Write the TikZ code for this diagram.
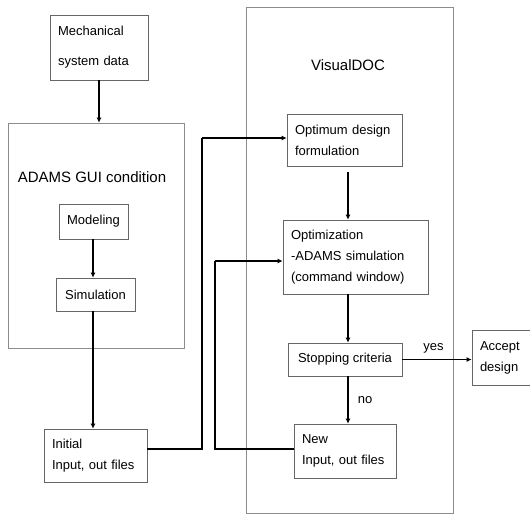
\documentclass[tikz,border=0pt]{standalone}
\usepackage{fontspec}
\setmainfont{Liberation Sans}
\usetikzlibrary{positioning,arrows.meta,calc}

\begin{document}
\begin{tikzpicture}[x=1pt,y=-1pt,
    box/.style={draw=black!60, line width=0.7pt, inner xsep=8pt, inner ysep=0pt,
        font=\fontsize{13}{21}\selectfont, align=left},
    frame/.style={draw=black!45, line width=0.7pt},
    ttl/.style={font=\fontsize{15}{18}\selectfont},
    arr/.style={-{Latex[length=5pt,width=5pt]}, line width=1.3pt},
    lnk/.style={line width=1.3pt}]
    \useasboundingbox (0,0) rectangle (530,515);
    % outer frames
    \node[frame, minimum width=176pt, minimum height=225pt] (adams) at (96,235.5) {};
    \node[frame, minimum width=207pt, minimum height=506pt] (visual) at (349.5,260) {};
    \node[ttl] (adamsttl) at (92,177) {ADAMS GUI condition};
    \node[ttl] (visualttl) at (348,65) {VisualDOC};
    % left column
    \node[box, text width=82pt, minimum height=65pt, font=\fontsize{13}{30}\selectfont] (mech) at (99,47.5) {Mechanical\\system data};
    \node[box, align=center, minimum width=69pt, minimum height=35pt] (model) at (93.5,221.5) {Modeling};
    \node[box, align=center, minimum width=79pt, minimum height=33pt] (simu) at (95.5,294.5) {Simulation};
    \node[box, text width=87pt, minimum height=53pt] (init) at (95.5,455.5) {Initial\\Input, out files};
    % right column
    \node[box, text width=99pt, minimum height=52pt] (optim) at (344.5,140) {Optimum design\\formulation};
    \node[box, text width=129pt, minimum height=74pt] (opt) at (355.5,257) {Optimization\\-ADAMS simulation\\(command window)};
    \node[box, align=center, minimum width=114pt, minimum height=33pt] (stop) at (345,359.5) {Stopping criteria};
    \node[box, text width=86pt, minimum height=54pt] (newf) at (345,451) {New\\Input, out files};
    \node[box, text width=42pt, minimum height=55pt] (accept) at (501,357.5) {Accept\\design};
    % connectors
    \draw[arr] (mech.south) -- (mech.south |- adams.north);
    \draw[arr] (model.south -| 93,0) -- (simu.north -| 93,0);
    \draw[arr] (simu.south -| 93,0) -- (init.north -| 93,0);
    \draw[arr] ([yshift=-6pt]optim.south -| 348,0) -- (opt.north -| 348,0);
    \draw[arr] (opt.south -| 348,0) -- (stop.north -| 348,0);
    \draw[arr] (stop.south -| 348,0) -- node[right=6pt, font=\fontsize{13}{15}\selectfont] {no} (newf.north -| 348,0);
    \draw[arr] (stop.east) -- node[above=2pt, pos=0.45, font=\fontsize{13}{15}\selectfont] {yes} (accept.west |- stop.east);
    \coordinate (bendA) at (202,138);
    \coordinate (bendB) at (215,261);
    \draw[lnk] (init.east |- 0,449) -| (bendA);
    \draw[arr] (bendA) -- (optim.west |- bendA);
    \draw[lnk] (newf.west |- 0,449) -| (bendB);
    \draw[arr] (bendB) -- (opt.west |- bendB);
\end{tikzpicture}
\end{document}
